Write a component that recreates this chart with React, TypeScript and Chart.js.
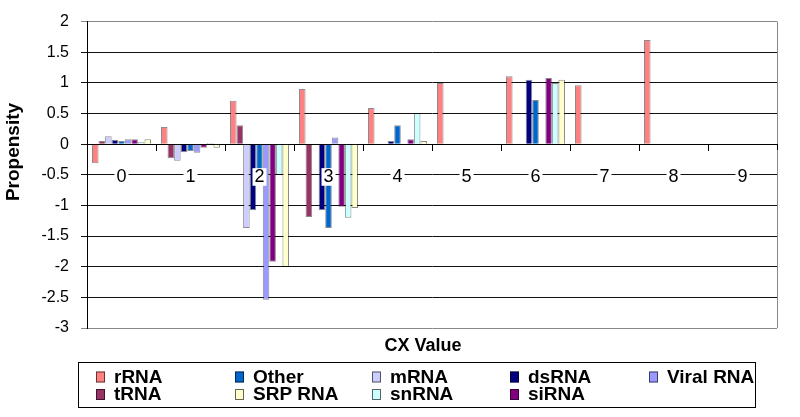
import React, { useEffect, useRef } from "react";
import { Chart, registerables } from "chart.js";

Chart.register(...registerables);

const categories = ["0", "1", "2", "3", "4", "5", "6", "7", "8", "9"];
const yTickMin = -3;
const yTickMax = 2;
const yTickStep = 0.5;

const rRNA = [-0.31, 0.28, 0.71, 0.9, 0.59, 1.0, 1.11, 0.96, 1.7, null];
const tRNA = [0.05, -0.23, 0.31, -1.19, null, null, null, null, null, null];
const mRNA = [0.13, -0.27, -1.37, null, null, null, null, null, null, null];
const dsRNA = [0.07, -0.13, -1.08, -1.08, 0.05, null, 1.05, null, null, null];
const other = [0.05, -0.11, -0.45, -1.37, 0.31, null, 0.72, null, null, null];
const viralRNA = [0.08, -0.14, -2.54, 0.11, null, null, null, null, null, null];
const siRNA = [0.08, -0.06, -1.92, -1.02, 0.08, null, 1.08, null, null, null];
const snRNA = [0.03, 0.02, -0.5, -1.2, 0.51, null, 1.0, null, null, null];
const srpRNA = [0.08, -0.06, -2.0, -1.04, 0.05, null, 1.05, null, null, null];

const seriesNames = ["rRNA", "tRNA", "mRNA", "dsRNA", "Other", "Viral RNA", "siRNA", "snRNA", "SRP RNA"];
const seriesValues = [rRNA, tRNA, mRNA, dsRNA, other, viralRNA, siRNA, snRNA, srpRNA];
const seriesColors = ["#FF8080", "#993366", "#CCCCFF", "#000080", "#0066CC", "#9999FF", "#800080", "#CCFFFF", "#FFFFCC"];

const legendRows = [
  ["rRNA", "Other", "mRNA", "dsRNA", "Viral RNA"],
  ["tRNA", "SRP RNA", "snRNA", "siRNA"],
];

const FONT = 'Arial, "Liberation Sans", sans-serif';

const decorPlugin = {
  id: "decor",
  beforeDatasetsDraw(chart: any) {
    const { ctx, chartArea, scales } = chart;
    ctx.save();
    ctx.strokeStyle = "#888888";
    ctx.lineWidth = 1;
    ctx.beginPath();
    ctx.moveTo(Math.round(chartArea.right) + 0.5, chartArea.top);
    ctx.lineTo(Math.round(chartArea.right) + 0.5, chartArea.bottom);
    ctx.stroke();
    // category boundary tick marks below the zero axis
    const y0 = Math.round(scales.y.getPixelForValue(0));
    ctx.strokeStyle = "#000";
    ctx.beginPath();
    for (let i = 0; i <= categories.length; i++) {
      const x = Math.round(scales.x.getPixelForValue(i - 0.5)) + 0.5;
      ctx.moveTo(x, y0);
      ctx.lineTo(x, y0 + 6);
    }
    ctx.stroke();
    ctx.restore();
  },
  afterDraw(chart: any) {
    const { ctx } = chart;
    ctx.save();
    ctx.fillStyle = "#000";
    ctx.font = `bold 18px ${FONT}`;
    ctx.textAlign = "center";
    ctx.textBaseline = "middle";
    ctx.fillText("CX Value", 423, 346);
    ctx.save();
    ctx.translate(14, 152);
    ctx.rotate(-Math.PI / 2);
    ctx.font = `bold 19px ${FONT}`;
    ctx.fillText("Propensity", 0, 0);
    ctx.restore();

    ctx.strokeStyle = "#000";
    ctx.lineWidth = 1;
    ctx.strokeRect(78.5, 362.5, 677, 45);
    const colX = [96, 235, 372, 510, 649];
    const rowY = [376.5, 394];
    ctx.textAlign = "left";
    ctx.font = `bold 19px ${FONT}`;
    legendRows.forEach((row, r) => {
      row.forEach((name, c) => {
        const idx = seriesNames.indexOf(name);
        const x = colX[c];
        const y = rowY[r];
        ctx.fillStyle = seriesColors[idx];
        ctx.fillRect(x, y - 5, 9, 11);
        ctx.strokeStyle = "rgba(0,0,0,0.6)";
        ctx.strokeRect(x + 0.5, y - 4.5, 8, 10);
        ctx.fillStyle = "#000";
        ctx.fillText(name, x + 18, y + 1);
      });
    });
    ctx.restore();
  },
};

export default function App() {
  const canvasRef = useRef<HTMLCanvasElement | null>(null);

  useEffect(() => {
    if (!canvasRef.current) return;
    Chart.defaults.font.family = FONT;
    const chart = new Chart(canvasRef.current, {
      type: "bar",
      data: {
        labels: categories,
        datasets: seriesNames.map((name, i) => ({
          label: name,
          data: seriesValues[i],
          backgroundColor: seriesColors[i],
          borderColor: "rgba(0,0,0,0.45)",
          borderWidth: 1,
          categoryPercentage: 0.855,
          barPercentage: 1,
        })),
      },
      options: {
        responsive: false,
        animation: false,
        events: [],
        layout: { padding: { left: 0, right: 23, top: 13, bottom: 89 } },
        plugins: {
          legend: { display: false },
          tooltip: { enabled: false },
        },
        scales: {
          x: {
            type: "category",
            position: { y: 0 } as any,
            grid: {
              drawOnChartArea: false,
              drawTicks: true,
              tickLength: 6,
              color: "#000",
              offset: true,
            },
            border: { color: "#000", width: 1 },
            ticks: {
              color: "#000",
              font: { size: 18 },
              padding: 16,
              z: 1,
              autoSkip: false,
              maxRotation: 0,
              showLabelBackdrop: true,
              backdropColor: "#ffffff",
              backdropPadding: { x: 2, y: -2 },
            } as any,
          },
          y: {
            min: yTickMin,
            max: yTickMax,
            afterFit: (scale: any) => {
              scale.width = 87;
            },
            grid: {
              color: (c: any) =>
                c.tick && (c.tick.value === yTickMax || c.tick.value === yTickMin) ? "#888888" : "#111111",
              tickLength: 6,
            },
            border: { color: "#000", width: 1 },
            ticks: {
              stepSize: yTickStep,
              color: "#000",
              font: { size: 16 },
              padding: 12,
              callback: (v: any) => String(Number(v)),
            },
          },
        },
      },
      plugins: [decorPlugin],
    } as any);
    return () => chart.destroy();
  }, []);

  return (
    <div style={{ position: "absolute", left: 0, top: 0, width: 800, height: 417, background: "#fff" }}>
      <canvas ref={canvasRef} width={800} height={417} />
    </div>
  );
}
